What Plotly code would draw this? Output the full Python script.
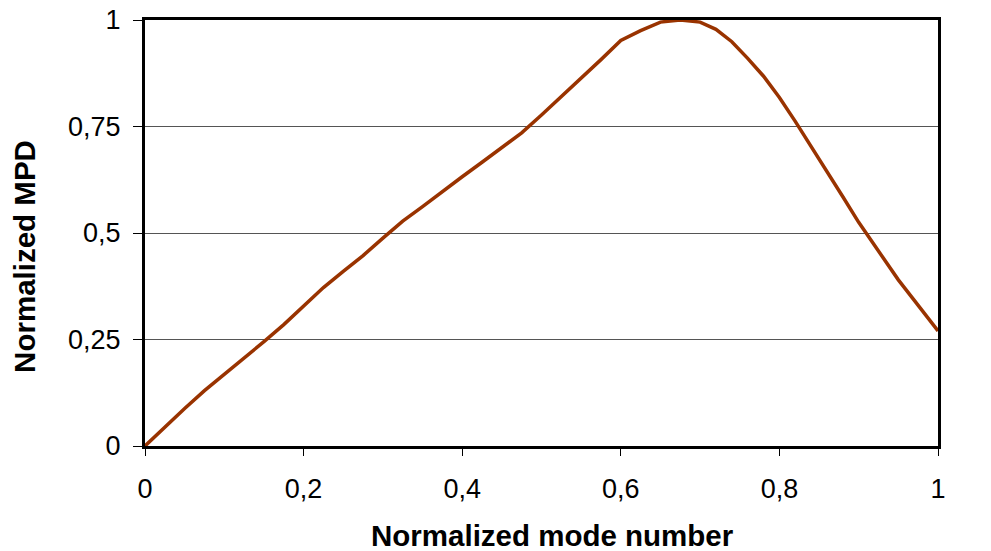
import plotly.graph_objects as go

# Data
mode_number = [0, 0.025, 0.05, 0.075, 0.1, 0.125, 0.15, 0.175, 0.2, 0.225, 0.25, 0.275,
               0.3, 0.325, 0.35, 0.375, 0.4, 0.425, 0.45, 0.475, 0.5, 0.525, 0.55, 0.575,
               0.6, 0.625, 0.65, 0.675, 0.7, 0.72, 0.74, 0.76, 0.78, 0.8, 0.82, 0.85,
               0.88, 0.9, 0.92, 0.95, 0.975, 1.0]
mpd = [0, 0.045, 0.088, 0.13, 0.168, 0.207, 0.245, 0.285, 0.328, 0.372, 0.41, 0.447,
       0.488, 0.528, 0.562, 0.598, 0.632, 0.666, 0.70, 0.735, 0.777, 0.82, 0.864, 0.907,
       0.952, 0.975, 0.995, 1.0, 0.995, 0.978, 0.949, 0.91, 0.868, 0.818, 0.762, 0.675,
       0.585, 0.525, 0.47, 0.39, 0.33, 0.27]

x_ticks = [0, 0.2, 0.4, 0.6, 0.8, 1]
x_tick_labels = ["0", "0,2", "0,4", "0,6", "0,8", "1"]
y_ticks = [0, 0.25, 0.5, 0.75, 1]
y_tick_labels = ["0", "0,25", "0,5", "0,75", "1"]
x_title = "Normalized mode number"
y_title = "Normalized MPD"

fig = go.Figure()
fig.add_trace(go.Scatter(x=mode_number, y=mpd, mode="lines",
                         line=dict(color="#993300", width=3.5), showlegend=False))

font_family = "Liberation Sans, Arial, sans-serif"
# page body has an 8px margin, so the figure is 8px smaller on each axis
fig.update_layout(
    width=983, height=543,
    margin=dict(l=137, r=53, t=12, b=105),
    paper_bgcolor="white", plot_bgcolor="white",
    font=dict(family=font_family, color="black", size=27),
)
fig.update_xaxes(
    range=[0, 1], tickvals=x_ticks, ticktext=x_tick_labels,
    showgrid=False, zeroline=False, automargin=False,
    showline=True, linecolor="black", linewidth=3, mirror=True,
    ticks="outside", ticklen=7, tickwidth=1, tickcolor="black",
    ticklabelstandoff=10, ticklabeloverflow="allow",
    tickfont=dict(size=27),
)
fig.update_yaxes(
    range=[0, 1], tickvals=y_ticks, ticktext=y_tick_labels,
    showgrid=True, gridcolor="#555555", gridwidth=1, zeroline=False, automargin=False,
    showline=True, linecolor="black", linewidth=3, mirror=True,
    ticks="outside", ticklen=9, tickwidth=1, tickcolor="black",
    ticklabelstandoff=7, ticklabeloverflow="allow",
    tickfont=dict(size=27),
)
fig.add_annotation(text="<b>" + x_title + "</b>", xref="paper", yref="paper",
                   x=0.5145, y=-0.211, xanchor="center", yanchor="middle",
                   showarrow=False, font=dict(size=29.5))
fig.add_annotation(text="<b>" + y_title + "</b>", xref="paper", yref="paper",
                   x=-0.152, y=0.445, xanchor="center", yanchor="middle", textangle=-90,
                   showarrow=False, font=dict(size=29.5))

fig.write_html("out.html")
